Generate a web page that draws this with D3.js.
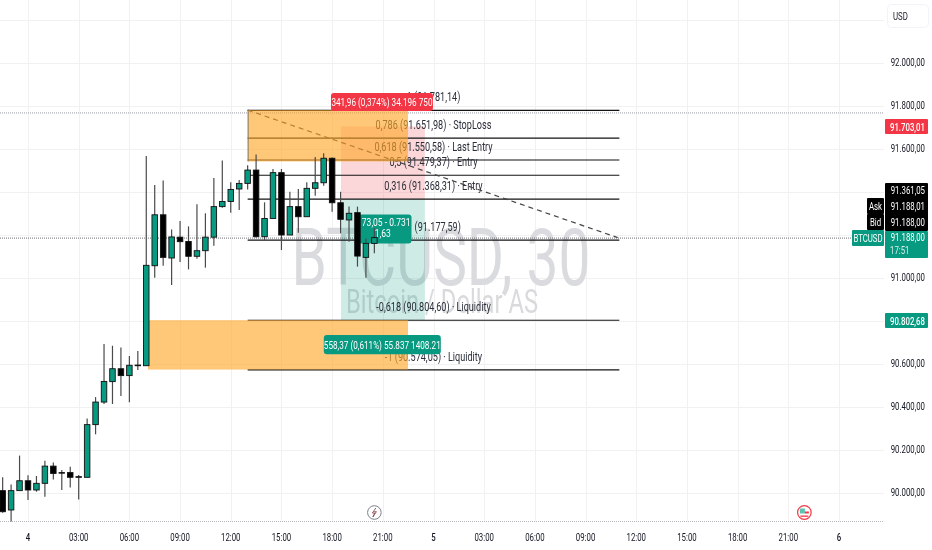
<!DOCTYPE html>
<html><head><meta charset="utf-8">
<script src="https://cdn.jsdelivr.net/npm/d3@7"></script>
<style>html,body{margin:0;padding:0;background:#fff;overflow:hidden}svg{display:block;filter:blur(.35px)}text{font-family:Roboto,"Liberation Sans",sans-serif}</style>
</head><body><svg id="c" width="932" height="550"></svg>
<script>
// ---- data ----
const hours  = [-1.5,-1,-.5,0,.5,1,1.5,2,2.5,3,3.5,4,4.5,5,5.5,6,6.5,7,7.5,8,8.5,9,9.5,10,10.5,11,11.5,12,12.5,13,13.5,14,14.5,15,15.5,16,16.5,17,17.5,18,18.5,19,19.5,20,20.5];
const opens  = [90011,89921,90011,90057,90014,90045,90125,90095,90095,90076,90073,90318,90423,90518,90578,90546,90595,90592,91057,91294,91093,91190,91170,91101,91127,91190,91332,91356,91414,91440,91502,91192,91277,91490,91200,91332,91285,91417,91443,91557,91350,91270,91304,91096,91161];
const highs  = [90073,90040,90174,90082,90079,90150,90142,90107,90122,90084,90347,90446,90693,90685,90677,90637,90660,91567,91432,91453,91226,91265,91240,91343,91301,91465,91546,91445,91456,91525,91575,91352,91507,91507,91401,91414,91445,91563,91580,91560,91401,91332,91332,91184,91231];
const lows   = [89908,89867,90011,89967,90006,89983,90063,90014,90026,89970,90073,90273,90414,90414,90451,90422,90572,90592,91001,91057,90967,91074,91040,91090,91048,91150,91327,91304,91316,91412,91188,91177,91277,91130,91200,91211,91285,91383,91429,91308,91208,91169,91053,91001,91115];
const closes = [89913,90011,90057,90014,90045,90125,90091,90094,90073,90073,90318,90423,90519,90578,90546,90594,90592,91059,91294,91096,91191,91169,91101,91127,91190,91332,91356,91412,91440,91502,91192,91277,91490,91200,91332,91285,91417,91443,91557,91350,91273,91301,91102,91161,91188];
const priceTicks = [90000,90200,90400,90600,90800,91000,91200,91400,91600,91800,92000,92200];
const shownPriceTicks = [90000,90200,90400,90600,91000,91600,91800,92000];
const timeTicks  = [0,3,6,9,12,15,18,21,24,27,30,33,36,39,42,45,48];
const timeLabels = ["4","03:00","06:00","09:00","12:00","15:00","18:00","21:00","5","03:00","06:00","09:00","12:00","15:00","18:00","21:00","6"];
const fibPrices  = [91781.14,91651.98,91550.58,91479.37,91368.31,91177.59,90804.60,90574.05];
const fibLabels  = ["1 (91.781,14)","0,786 (91.651,98) · StopLoss","0,618 (91.550,58) · Last Entry","0,5 (91.479,37) · Entry","0,316 (91.368,31) · Entry","(91.177,59)","-0,618 (90.804,60) · Liquidity","-1 (90.574,05) · Liquidity"];
const fibLabelHours = [24,24,24,24,24,24.25,24,24];
const lastPrice = 91188, highPrice = 91770;

const svg = d3.select("#c");
const W = 884, Yb = 521.5;
const x = d3.scaleLinear().domain([0,48]).range([28,839]);
const y = d3.scaleLinear().domain([90000,92000]).range([493,63]);
const ticks = v => v.toFixed(2).replace(".",",").replace(/\B(?=(\d{3})(?!\d))/g,".");

function label(g,px,py,str,o={}){
  const sx=o.sx||0.68, a=o.anchor||"middle";
  return g.append("text").attr("transform",`translate(${px},${py}) scale(${sx},1)`)
    .attr("text-anchor",a).attr("font-size",o.size||11.5).attr("font-weight",o.weight||400)
    .attr("fill",o.fill||"#131722").attr("dominant-baseline","central").text(str);
}

// grid
const grid = svg.append("g");
grid.selectAll("line.h").data(priceTicks).join("line").attr("class","h")
  .attr("x1",0).attr("x2",W).attr("y1",d=>y(d)+.5).attr("y2",d=>y(d)+.5).attr("stroke","#f1f1f2");
grid.selectAll("line.v").data(timeTicks).join("line").attr("class","v")
  .attr("x1",d=>Math.round(x(d))+.5).attr("x2",d=>Math.round(x(d))+.5).attr("y1",0).attr("y2",Yb).attr("stroke","#f1f1f2");

// watermark
const wm = svg.append("g");
label(wm,441,258,"BTCUSD, 30",{size:80,sx:.71,fill:"#d9dbde"});
label(wm,442,301,"Bitcoin / Dollar AS",{size:34,sx:.70,fill:"#d8dadc"});

// price lines
svg.append("line").attr("x1",0).attr("x2",W).attr("y1",y(highPrice)+.5).attr("y2",y(highPrice)+.5).attr("stroke","#9a9ca3").attr("stroke-dasharray","1 1");
svg.append("line").attr("x1",0).attr("x2",W).attr("y1",y(lastPrice)+.5).attr("y2",y(lastPrice)+.5).attr("stroke","#6f7178").attr("stroke-dasharray","1 1");
svg.append("line").attr("x1",0).attr("x2",W).attr("y1",Yb).attr("y2",Yb).attr("stroke","#b6b8bc").attr("stroke-dasharray","1 1");

// position tool
const tx0=x(18.52), tx1=x(23.49);
svg.append("rect").attr("x",tx0).attr("width",tx1-tx0).attr("y",y(91705)).attr("height",y(91368)-y(91705)).attr("fill","#f23645").attr("opacity",.2);
svg.append("rect").attr("x",tx0).attr("width",tx1-tx0).attr("y",y(91368)).attr("height",y(90804)-y(91368)).attr("fill","#089981").attr("opacity",.2);

// fib
const fx0=x(13), fx1=x(35);
svg.selectAll("line.f").data(fibPrices).join("line").attr("class","f")
  .attr("x1",fx0).attr("x2",fx1).attr("y1",d=>y(d)+.3).attr("y2",d=>y(d)+.3).attr("stroke","#131313").attr("stroke-width",1.1);
fibLabels.forEach((s,i)=>label(svg,x(fibLabelHours[i]),y(fibPrices[i])-13,s,{fill:"#2a2e39",size:12,sx:.76}));
svg.append("line").attr("x1",fx0).attr("y1",y(91781)).attr("x2",x(34.9)).attr("y2",y(91188)).attr("stroke","#444").attr("stroke-width",1.2).attr("stroke-dasharray","5 4");

// orange zones (drawn over the fib labels)
const orange="#ffa726";
svg.append("rect").attr("x",fx0).attr("width",x(22.49)-fx0).attr("y",y(91781)).attr("height",y(91542)-y(91781)).attr("fill",orange).attr("opacity",.62);
svg.append("rect").attr("x",x(7.1)).attr("width",x(22.49)-x(7.1)).attr("y",y(90804)).attr("height",y(90574)-y(90804)).attr("fill",orange).attr("opacity",.62);
svg.append("line").attr("x1",fx0+.5).attr("x2",fx0+.5).attr("y1",y(91781)).attr("y2",y(91542)).attr("stroke","#8a7a60");

// tags on the chart
function tag(cx,py0,py1,w,fill){return svg.append("rect").attr("x",x(cx)-w/2).attr("width",w).attr("y",y(py0)).attr("height",y(py1)-y(py0)).attr("rx",3).attr("fill",fill);}
tag(20.95,91860,91777,102,"#f23645");
label(svg,x(20.95),y(91820),"341,96 (0,374%) 34.196 750",{fill:"#fff",sx:.71});
tag(21.1,91295,91160,54,"#089981");
label(svg,x(21.2),y(91260),"73,05 - 0.731",{fill:"#fff",sx:.74});
label(svg,x(21.0),y(91210),"1,63",{fill:"#fff",sx:.74});
tag(20.97,90735,90645,117,"#089981");
label(svg,x(20.97),y(90690),"558,37 (0,611%) 55.837 1408.21",{fill:"#fff",sx:.71});

// candles
const candles = hours.map((h,i)=>({h,o:opens[i],c:closes[i],hi:highs[i],lo:lows[i]}));
const cg = svg.append("g");
cg.selectAll("line").data(candles).join("line")
  .attr("x1",d=>x(d.h)).attr("x2",d=>x(d.h)).attr("y1",d=>y(d.hi)).attr("y2",d=>y(d.lo))
  .attr("stroke","#4a4a4a").attr("stroke-width",1.2);
cg.selectAll("rect").data(candles).join("rect")
  .attr("x",d=>x(d.h)-2.75).attr("width",5.5)
  .attr("y",d=>y(Math.max(d.o,d.c))).attr("height",d=>Math.max(.6,Math.abs(y(d.o)-y(d.c))))
  .attr("fill",d=>d.c>=d.o?"#089981":"#000").attr("stroke","#111").attr("stroke-width",.9);

// price axis
svg.selectAll("g.pt").data(shownPriceTicks).join("g").attr("class","pt")
  .each(function(d){label(d3.select(this),925,y(d)-1,ticks(d),{anchor:"end"});});
function box(x0,y0,w,h,fill,r){svg.append("rect").attr("x",x0).attr("y",y0).attr("width",w).attr("height",h).attr("fill",fill).attr("rx",r||0);}
box(887.5,4.5,41,23,"#fff",4);
svg.append("rect").attr("x",887.5).attr("y",4.5).attr("width",41).attr("height",23).attr("rx",4).attr("fill","none").attr("stroke","#f0f3fa");
label(svg,893,16,"USD",{anchor:"start"});
box(885,119,43,15,"#f23645",1);
label(svg,925,126.5,ticks(91703.01),{anchor:"end",fill:"#fff",weight:500});
box(885,183,43,48,"#000",1);
label(svg,925,190,ticks(91361.05),{anchor:"end",fill:"#fff"});
label(svg,925,206,ticks(91188.01),{anchor:"end",fill:"#fff"});
label(svg,925,222,ticks(91188.00),{anchor:"end",fill:"#fff"});
box(885,231,43,27,"#089981",1);
label(svg,925,237,ticks(91188.00),{anchor:"end",fill:"#fff"});
label(svg,890,250,"17:51",{anchor:"start",fill:"#d5f0ea"});
box(867,198,17,16,"#000",1); label(svg,875.5,206,"Ask",{fill:"#fff"});
box(867,214,17,16,"#000",1); label(svg,875.5,222,"Bid",{fill:"#fff"});
box(852,230,32,16,"#089981",1); label(svg,868,238,"BTCUSD",{fill:"#fff"});
box(885,313,43,15,"#089981",1); label(svg,925,320.5,ticks(90802.68),{anchor:"end",fill:"#fff",weight:500});

// time axis
timeTicks.forEach((t,i)=>label(svg,x(t),537,timeLabels[i],{weight:(t%24===0)?500:400}));

// event icons
const ev = svg.append("g").attr("transform",`translate(${x(20.5)},512.5)`);
ev.append("circle").attr("r",6.8).attr("fill","#fff").attr("stroke","#7b7f88").attr("stroke-width",1);
ev.append("path").attr("d",d3.line()([[1.5,-4.5],[-2,.5],[.3,.5],[-1.5,4.5],[2,-.8],[-.2,-.8]])).attr("fill","none").attr("stroke","#8b4a50").attr("stroke-width",.9);
const fl = svg.append("g").attr("transform",`translate(${x(45.95)},512.5)`);
fl.append("circle").attr("r",6.8).attr("fill","#fff").attr("stroke","#f23645").attr("stroke-width",1.2);
fl.append("rect").attr("x",-4.5).attr("y",-4).attr("width",5).attr("height",5).attr("fill","#5cc3b0");
fl.append("rect").attr("x",.5).attr("y",-1).attr("width",4).attr("height",2).attr("fill","#f23645");
fl.append("rect").attr("x",-4).attr("y",3).attr("width",8).attr("height",1.3).attr("fill","#f23645");
</script></body></html>
